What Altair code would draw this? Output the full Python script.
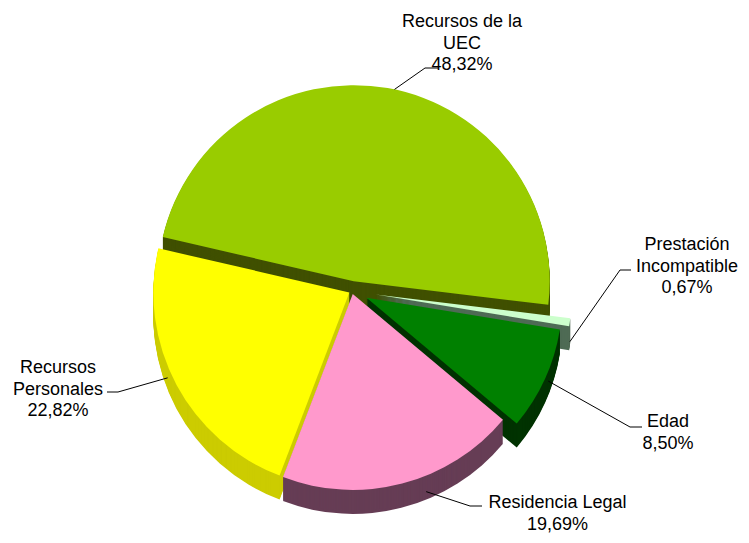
import math
import altair as alt
import pandas as pd

# ---- data (clockwise order, starting at the left edge of "Recursos de la UEC")
categories = ["Recursos de la UEC", "Prestación Incompatible", "Edad",
              "Residencia Legal", "Recursos Personales"]
values = [48.32, 0.67, 8.50, 19.69, 22.82]
label_names = ["Recursos de la\nUEC", "Prestación\nIncompatible", "Edad",
               "Residencia Legal", "Recursos\nPersonales"]

# ---- style / layout
top_colors = ["#99CC00", "#CCFFCC", "#008000", "#FF99CC", "#FFFF00"]
side_colors = ["#405000", "#4F6B55", "#003300", "#663D55", "#CCCC00"]
explode = [10, 24, 16, 3, 3]
W, H = 733, 527
CX, CY = 344, 283
R = 196
DEPTH = 24
A0_DEG = 283.0
A0 = math.radians(A0_DEG)

df = pd.DataFrame({"cat": categories, "value": values,
                   "order": list(range(len(categories))),
                   "explode": explode})

theta_scale = alt.Scale(domain=[0, 100], range=[A0, A0 + 2 * math.pi])

base = (
    alt.Chart(df)
    .transform_window(cum="sum(value)", sort=[alt.SortField("order")], frame=[None, 0])
    .transform_calculate(
        start="datum.cum - datum.value",
        mid=f"{A0} + 2*PI*(datum.cum - datum.value/2)/100",
    )
    .transform_calculate(
        px=f"{CX} + datum.explode*sin(datum.mid)",
        py=f"{CY} - datum.explode*cos(datum.mid)",
    )
)


def slice_layer(dy, colors):
    return (
        base.transform_calculate(py2=f"datum.py + {dy}")
        .mark_arc(radius=R)
        .encode(
            theta=alt.Theta("start:Q", scale=theta_scale, stack=None),
            theta2="cum:Q",
            x=alt.X("px:Q", scale=None, axis=None),
            y=alt.Y("py2:Q", scale=None, axis=None),
            color=alt.Color("cat:N", scale=alt.Scale(domain=categories, range=colors),
                            legend=None),
        )
    )


layers = [slice_layer(d, side_colors) for d in range(DEPTH, 0, -1)]
layers.append(slice_layer(0, top_colors))

# ---- labels and leader lines (chart coordinates; first-line baseline)
label_pos = [(454, 19), (679, 242), (660, 419), (549.5, 500), (50, 365)]
leader_anchor = [(12, 0), (98, 20), (112, 10), (158, 16), (248, 12)]
leader_bend = [[(417, 60), (430, 60)], [(612, 262), (623, 262)],
               [(622, 419), (634, 419)], [(462, 498), (474, 498)],
               [(110, 384), (99, 384)]]

starts = []
acc = 0.0
for v in values:
    starts.append(acc)
    acc += v

rows = []
for i, cat in enumerate(categories):
    mid = A0 + 2 * math.pi * (starts[i] + values[i] / 2) / 100
    ox = CX + explode[i] * math.sin(mid)
    oy = CY - explode[i] * math.cos(mid)
    ang, dep = leader_anchor[i]
    a = math.radians(ang)
    pts = [(ox + R * math.sin(a), oy - R * math.cos(a) + dep)] + leader_bend[i]
    for j, (x, y) in enumerate(pts):
        rows.append({"cat": cat, "seq": j, "x": x, "y": y})
leaders_df = pd.DataFrame(rows)

leaders = alt.Chart(leaders_df).mark_line(color="black", strokeWidth=1).encode(
    x=alt.X("x:Q", scale=None, axis=None),
    y=alt.Y("y:Q", scale=None, axis=None),
    detail="cat:N",
    order="seq:O",
)

labels_df = pd.DataFrame({"cat": categories, "name": label_names, "value": values,
                          "lx": [p[0] for p in label_pos], "ly": [p[1] for p in label_pos]})
labels = (
    alt.Chart(labels_df)
    .transform_calculate(
        txt="datum.name + '\\n' + replace(format(datum.value, '.2f'), '.', ',') + '%'"
    )
    .mark_text(font="Liberation Sans", fontSize=18, color="black", align="center",
               baseline="alphabetic", lineBreak="\n", lineHeight=21.5)
    .encode(
        x=alt.X("lx:Q", scale=None, axis=None),
        y=alt.Y("ly:Q", scale=None, axis=None),
        text="txt:N",
    )
)

chart = (
    alt.layer(*layers, leaders, labels)
    .resolve_scale(color="independent")
    .properties(width=W, height=H, autosize=alt.AutoSizeParams(type="none"), padding=0,
                background="white")
    .configure_view(stroke=None)
)

chart.save("out.html", embed_options={"renderer": "svg", "actions": False})
